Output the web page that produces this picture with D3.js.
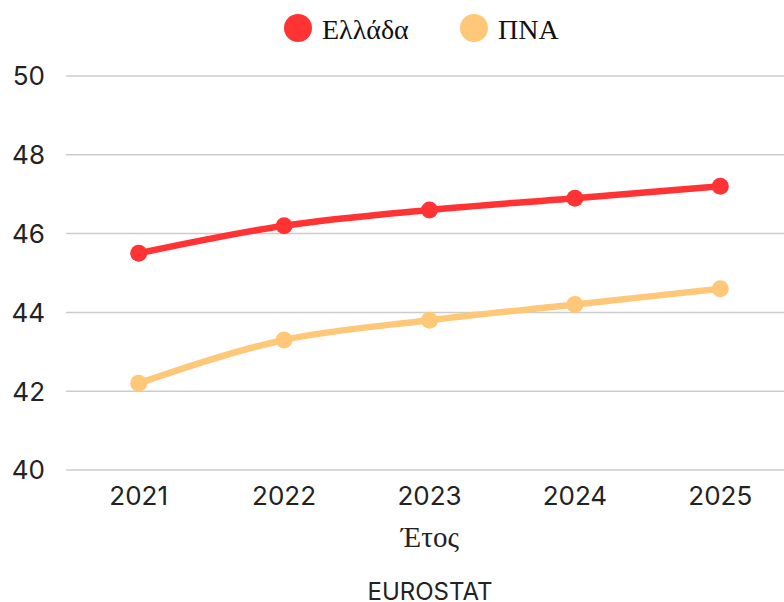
<!DOCTYPE html>
<html>
<head>
<meta charset="utf-8">
<script src="https://cdn.jsdelivr.net/npm/d3@7"></script>
<style>
  body { margin: 0; background: #fff; }
  svg { display: block; }
</style>
</head>
<body>
<svg id="chart" width="784" height="602"></svg>
<script>
var years = ["2021", "2022", "2023", "2024", "2025"];
var greece = [45.5, 46.2, 46.6, 46.9, 47.2];
var pna = [42.2, 43.3, 43.8, 44.2, 44.6];
var yTicks = [40, 42, 44, 46, 48, 50];
var seriesNames = ["Ελλάδα", "ΠΝΑ"];
var seriesColors = ["#ff3333", "#ffc879"];

var svg = d3.select("#chart");

var x = d3.scalePoint().domain(years).range([66, 793]).padding(0.5);
var y = d3.scaleLinear().domain([40, 50]).range([470, 76]);

// gridlines
svg.append("g")
  .selectAll("line")
  .data(yTicks)
  .enter().append("line")
  .attr("x1", 66).attr("x2", 784)
  .attr("y1", function(d) { return y(d); })
  .attr("y2", function(d) { return y(d); })
  .attr("stroke", "#cccccc")
  .attr("stroke-width", 1.5);

// y labels
svg.append("g")
  .selectAll("text")
  .data(yTicks)
  .enter().append("text")
  .attr("x", 45)
  .attr("y", function(d) { return y(d); })
  .attr("dy", "0.36em")
  .attr("text-anchor", "end")
  .attr("font-family", "Inter, sans-serif")
  .attr("font-size", 26)
  .attr("fill", "#222")
  .text(function(d) { return d; });

// x labels
svg.append("g")
  .selectAll("text")
  .data(years)
  .enter().append("text")
  .attr("x", function(d) { return x(d); })
  .attr("y", 505)
  .attr("text-anchor", "middle")
  .attr("font-family", "Inter, sans-serif")
  .attr("font-size", 26)
  .attr("fill", "#222")
  .text(function(d) { return d; });

svg.append("text")
  .attr("x", 430).attr("y", 547)
  .attr("text-anchor", "middle")
  .attr("font-family", "'Liberation Serif', serif")
  .attr("font-size", 29)
  .attr("fill", "#222")
  .text("Έτος");

svg.append("text")
  .attr("x", 430).attr("y", 600)
  .attr("text-anchor", "middle")
  .attr("font-family", "Inter, sans-serif")
  .attr("font-size", 24)
  .attr("fill", "#222")
  .text("EUROSTAT");

var line = d3.line()
  .x(function(d, i) { return x(years[i]); })
  .y(function(d) { return y(d); })
  .curve(d3.curveMonotoneX);

[greece, pna].forEach(function(vals, k) {
  var g = svg.append("g");
  g.append("path")
    .attr("d", line(vals))
    .attr("fill", "none")
    .attr("stroke", seriesColors[k])
    .attr("stroke-width", 6.5)
    .attr("stroke-linecap", "round");
  g.selectAll("circle")
    .data(vals)
    .enter().append("circle")
    .attr("cx", function(d, i) { return x(years[i]); })
    .attr("cy", function(d) { return y(d); })
    .attr("r", 8.5)
    .attr("fill", seriesColors[k]);
});

// legend
var legendX = [298, 474];
seriesNames.forEach(function(name, k) {
  svg.append("circle")
    .attr("cx", legendX[k]).attr("cy", 28).attr("r", 14)
    .attr("fill", seriesColors[k]);
  svg.append("text")
    .attr("x", legendX[k] + 24).attr("y", 29)
    .attr("dy", "0.35em")
    .attr("font-family", "'Liberation Serif', serif")
    .attr("font-size", 28)
    .attr("fill", "#111")
    .text(name);
});
</script>
</body>
</html>
